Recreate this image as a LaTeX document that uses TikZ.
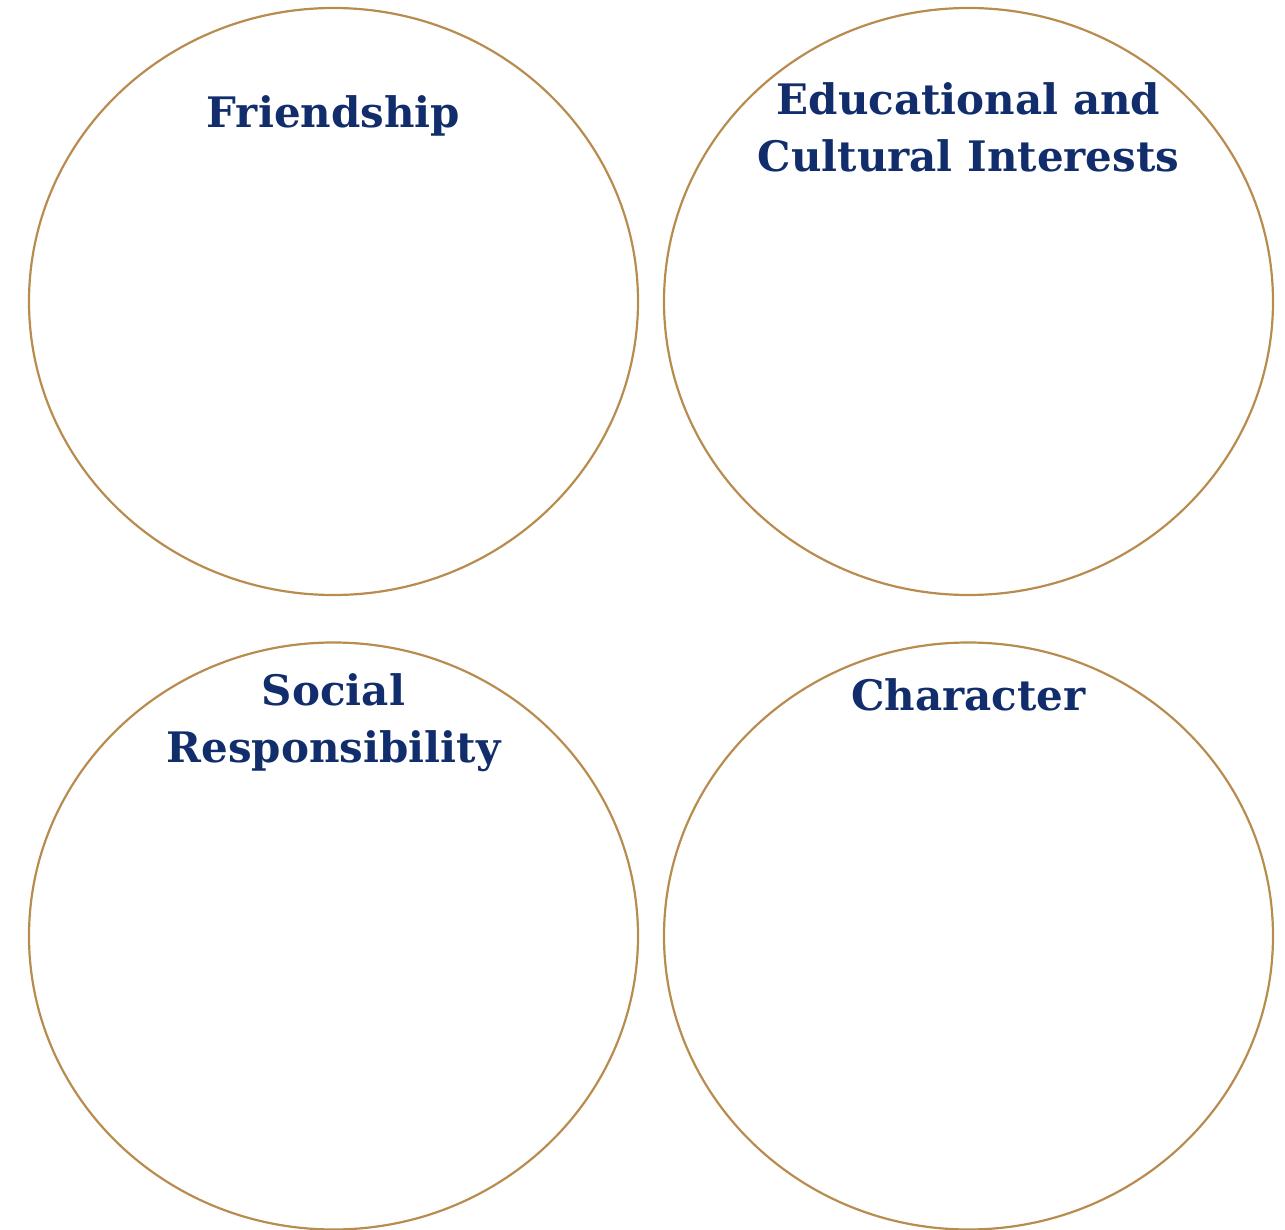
\documentclass[tikz,border=0pt]{standalone}
\usepackage{fontspec}
\setmainfont{DejaVu Serif}
\usetikzlibrary{shapes.geometric,positioning}
\definecolor{navy}{HTML}{112D6B}
\definecolor{gold}{HTML}{B88C4E}

\begin{document}
\begin{tikzpicture}[x=1pt,y=-1pt,
  ring/.style={ellipse,draw=gold,line width=2.2pt,minimum width=609pt,minimum height=587pt,inner sep=0pt},
  heading/.style={text=navy,font=\fontsize{42}{57}\selectfont\bfseries,align=center,inner sep=0pt}]
\useasboundingbox (0,0) rectangle (1285,1230);
\node[ring] (fr) at (333.5,301.5) {};
\node[ring] (ed) at (968.5,301.5) {};
\node[ring] (so) at (333.5,936) {};
\node[ring] (ch) at (968.5,936) {};
\node[heading,below=88pt of fr.north] {Friendship};
\node[heading,below=75pt of ed.north] {Educational and\\Cultural Interests};
\node[heading,below=32pt of so.north] {Social\\Responsibility};
\node[heading,below=37pt of ch.north] {Character};
\end{tikzpicture}
\end{document}
